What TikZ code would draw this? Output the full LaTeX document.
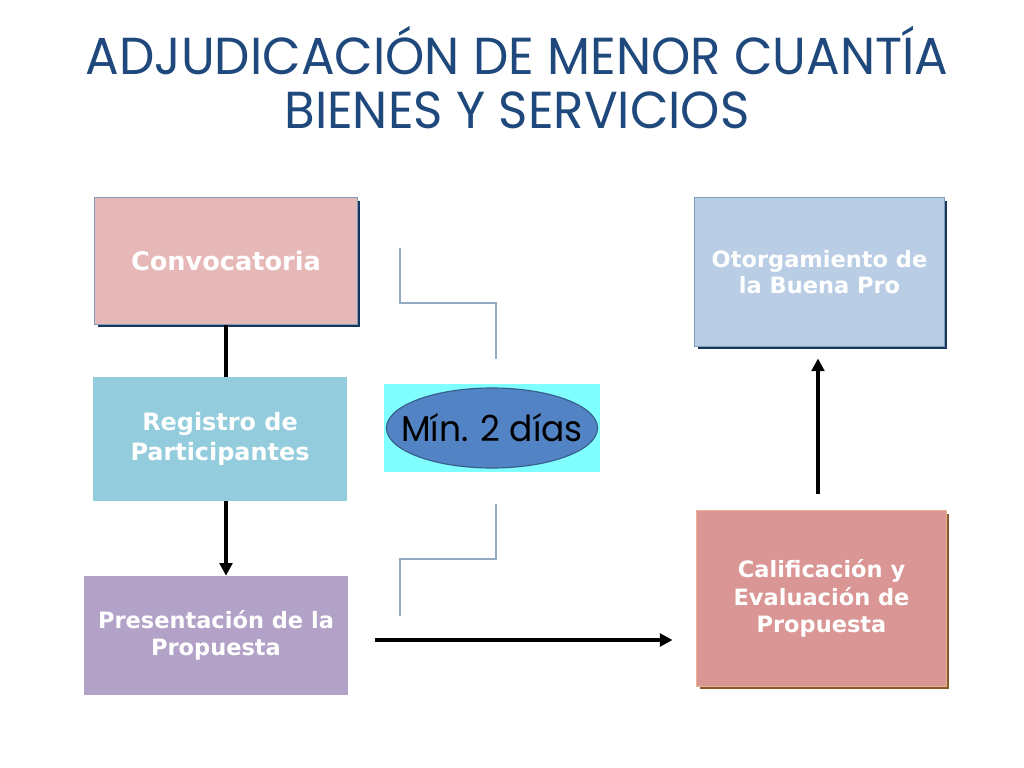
\documentclass[tikz,border=0pt]{standalone}
\usepackage{fontspec}
\usetikzlibrary{arrows.meta, positioning, shapes.geometric, shadows}
\newfontfamily\boxfont{DejaVu Sans}
\newfontfamily\titlefont[FakeStretch=0.96]{Poppins}
\definecolor{slcolor0}{HTML}{1F497D}
\definecolor{slcolor1}{HTML}{E6B9B8}
\definecolor{slcolor2}{HTML}{93CDDD}
\definecolor{slcolor3}{HTML}{B3A2C7}
\definecolor{slcolor4}{HTML}{B9CDE5}
\definecolor{slcolor5}{HTML}{D99694}
\definecolor{slcolor6}{HTML}{7F9DB9}
\definecolor{slcolor7}{HTML}{17375E}
\definecolor{slcolor8}{HTML}{E6B494}
\definecolor{slcolor9}{HTML}{8B5A2B}
\definecolor{slcolor10}{HTML}{80FFFF}
\definecolor{slcolor11}{HTML}{5283C4}
\definecolor{slcolor12}{HTML}{385D8A}
\definecolor{slcolor13}{HTML}{95A8C6}
\tikzset{
  title_text/.style={font=\titlefont\fontsize{37}{38.4}\selectfont, text=slcolor0, align=center},
  box_text/.style={text=white, align=center, inner sep=0pt},
  box_plain/.style={box_text, rectangle},
  box_shadow_blue/.style={box_plain, draw=slcolor6, line width=0.7pt, drop shadow={shadow xshift=2.2pt, shadow yshift=-2.2pt, fill=slcolor7, opacity=1}},
  box_shadow_brown/.style={box_plain, draw=slcolor8, line width=0.7pt, drop shadow={shadow xshift=2.2pt, shadow yshift=-2.2pt, fill=slcolor9, opacity=1}},
  flow_line/.style={line width=2.6pt, color=black},
  flow_arrow/.style={flow_line, -{Triangle[length=9pt, width=9pt]}},
  bracket_line/.style={line width=0.8pt, color=slcolor13},
  days_box/.style={rectangle, fill=slcolor10, minimum width=5.4cm, minimum height=2.2cm, inner sep=0pt},
  days_ellipse/.style={ellipse, fill=slcolor11, draw=slcolor12, line width=0.8pt, minimum width=5.275cm, minimum height=2.0cm, inner sep=0pt},
  days_text/.style={font=\titlefont\fontsize{25.5}{28}\selectfont, text=black, inner sep=0pt}
}
\begin{document}
\begin{tikzpicture}[x=0.025cm, y=-0.025cm]
\path[use as bounding box, fill=white] (0,0) rectangle (1024,768);
\node[title_text] (title_node) at (517, 78) {ADJUDICACIÓN DE MENOR CUANTÍA\\BIENES Y SERVICIOS};
\node[box_shadow_blue, fill=slcolor1, minimum width=6.55cm, minimum height=3.15cm, font=\boxfont\bfseries\fontsize{18.2}{21}\selectfont] (conv_node) at (226, 261) {Convocatoria};
\node[box_plain, fill=slcolor2, minimum width=6.35cm, minimum height=3.1cm, font=\boxfont\bfseries\fontsize{17}{21}\selectfont] (reg_node) at (220, 439) {Registro de\\Participantes};
\node[box_plain, fill=slcolor3, minimum width=6.6cm, minimum height=2.975cm, font=\boxfont\bfseries\fontsize{16}{19.5}\selectfont] (pres_node) at (216, 635.5) {Presentación de la\\Propuesta};
\node[box_shadow_blue, fill=slcolor4, minimum width=6.225cm, minimum height=3.7cm, font=\boxfont\bfseries\fontsize{16}{19}\selectfont] (otor_node) at (819.5, 272) {Otorgamiento de\\la Buena Pro};
\node[box_shadow_brown, fill=slcolor5, minimum width=6.225cm, minimum height=4.375cm, font=\boxfont\bfseries\fontsize{16}{19.5}\selectfont] (calif_node) at (821.5, 598.5) {Calificación y\\Evaluación de\\Propuesta};
\node[days_box] (days_box_node) at (492, 428) {};
\node[days_ellipse, label={[days_text]center:Mín. 2 días}] (days_node) at (days_box_node.center) {};
\draw[bracket_line] (400,248) -- (400,303) -- (496,303) -- (496,359);
\draw[bracket_line] (496,504) -- (496,559) -- (400,559) -- (400,616);
\draw[flow_line] (conv_node.south) -- (conv_node.south |- reg_node.north);
\draw[flow_arrow] (conv_node.south |- reg_node.south) -- (conv_node.south |- pres_node.north);
\draw[flow_arrow, shorten <=19pt, shorten >=17pt] ([yshift=-3.2pt]pres_node.east) -- ([yshift=-3.2pt]pres_node.east -| calif_node.west);
\draw[flow_arrow, shorten <=11.4pt, shorten >=8.5pt] ([xshift=-2.5pt]calif_node.north) -- ([xshift=-2.5pt]calif_node.north |- otor_node.south);
\end{tikzpicture}
\end{document}
